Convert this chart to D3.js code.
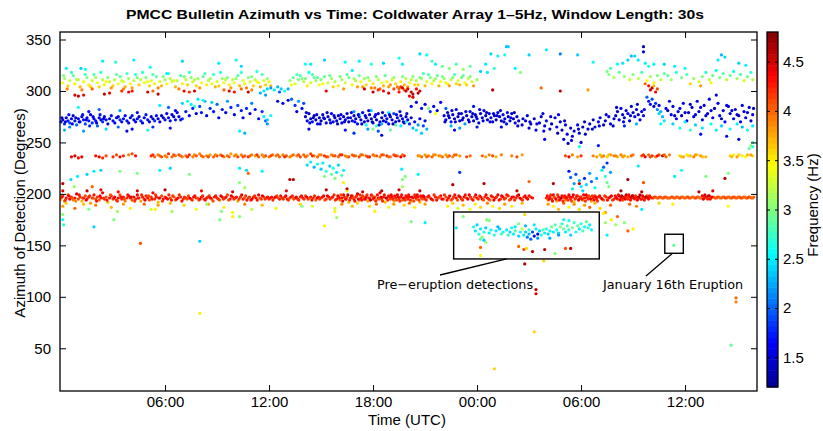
<!DOCTYPE html>
<html><head><meta charset="utf-8">
<script src="https://cdn.jsdelivr.net/npm/d3@7"></script>
<style>body{margin:0;background:#fff}svg{display:block}</style>
</head><body><svg id="c" width="823" height="431"></svg>
<script>
// Each point: [time in hours since 00:00 day 1, azimuth deg, frequency Hz]
const redBand = [[0.0,195,3.8],[0.1,198,4.2],[0.2,193,4.0],[0.3,196,4.3],[0.4,199,4.1],[0.5,195,4.4],[0.6,197,4.2],[0.7,194,3.9],[0.8,196,4.3],[0.9,200,4.5],[1.0,195,4.1],[1.1,197,4.2],[1.2,193,3.7],[1.3,196,4.3],[1.4,198,4.1],[1.5,195,4.2],[1.6,197,4.4],[1.7,191,3.8],[1.8,196,4.2],[1.9,199,4.3],
[2.0,195,4.1],[2.1,197,4.2],[2.2,194,4.0],[2.3,196,4.3],[2.4,201,4.4],[2.5,195,4.2],[2.6,197,4.1],[2.7,192,3.7],[2.8,196,4.3],[2.9,198,4.2],[3.0,195,4.1],[3.1,197,4.4],[3.2,194,4.2],[3.3,196,4.3],[3.4,199,4.1],[3.5,195,4.2],[3.6,197,4.3],[3.7,193,3.9],[3.8,196,4.2],[3.9,198,4.4],
[4.0,196,4.2],[4.1,194,4.1],[4.2,197,4.3],[4.3,195,4.2],[4.4,199,4.4],[4.5,196,4.1],[4.6,193,3.8],[4.7,197,4.3],[4.8,195,4.2],[4.9,198,4.2],[5.0,196,4.3],[5.1,194,4.1],[5.2,197,4.2],[5.3,201,4.4],[5.4,195,4.2],[5.5,197,4.3],[5.6,192,3.7],[5.7,196,4.2],[5.8,198,4.1],[5.9,195,4.3],
[6.0,197,4.2],[6.15,195,4.3],[6.3,196,4.1],[6.45,198,4.2],[6.6,194,4.0],[6.75,196,4.3],[6.9,197,4.2],[7.05,195,4.2],[7.2,196,4.3],[7.35,198,4.1],[7.5,195,4.2],[7.65,197,4.4],[7.8,196,4.2],[7.95,194,4.1],[8.1,197,4.3],
[8.25,195,4.2],[8.4,196,4.3],[8.55,198,4.2],[8.7,195,4.1],[8.85,197,4.3],[9.0,196,4.2],[9.15,194,4.0],[9.3,197,4.3],[9.45,196,4.2],[9.6,199,4.1],[9.75,195,4.3],[9.9,197,4.2],[10.05,196,4.3],[10.2,193,3.8],[10.35,197,4.2],[10.5,195,4.3],[10.65,198,4.2],[10.8,196,4.1],[10.95,194,4.3],[11.1,197,4.2],[11.25,196,4.3],[11.4,199,4.4],[11.55,195,4.2],[11.7,197,4.1],[11.85,196,4.3],
[12.0,195,4.2],[12.15,197,4.3],[12.3,196,4.2],[12.45,198,4.1],[12.6,195,4.3],[12.75,196,4.2],[12.9,197,4.2],[13.05,195,4.3],[13.2,196,4.1],[13.35,198,4.2],[13.5,196,4.3],[13.65,195,4.2],[13.8,197,4.2],[13.95,196,4.3],[14.1,198,4.1],[14.25,195,4.2],[14.4,197,4.3],[14.55,196,4.2],[14.7,194,4.0],[14.85,197,4.3],[15.0,196,4.2],[15.15,198,4.4],[15.3,195,4.2],[15.45,197,4.3],[15.6,196,4.1],[15.75,199,4.2],[15.9,195,4.3],
[16.0,197,4.2],[16.1,194,3.9],[16.2,196,4.3],[16.3,199,4.4],[16.4,195,4.2],[16.5,197,4.1],[16.6,192,3.7],[16.7,196,4.3],[16.8,198,4.2],[16.9,195,4.4],[17.0,197,4.2],[17.1,200,4.6],[17.2,194,4.0],[17.3,196,4.3],[17.4,198,4.2],[17.5,195,4.1],[17.6,197,4.4],[17.7,193,3.8],[17.8,196,4.2],[17.9,199,4.3],[18.0,195,4.2],[18.1,197,4.1],[18.2,194,3.9],[18.3,196,4.3],[18.4,201,4.4],[18.5,195,4.2],[18.6,197,4.3],[18.7,192,3.7],[18.8,196,4.2],[18.9,198,4.4],[19.0,195,4.1],[19.1,197,4.3],[19.2,193,3.8],[19.3,196,4.2],[19.4,199,4.4],[19.5,195,4.2],[19.6,197,4.3],[19.7,194,4.0],[19.8,196,4.2],[19.9,198,4.3],
[20.0,195,4.2],[20.1,197,4.4],[20.2,193,3.8],[20.3,196,4.3],[20.4,199,4.2],[20.5,195,4.1],[20.6,197,4.3],[20.7,192,3.7],[20.8,196,4.2],[20.9,198,4.4],[21.0,195,4.2],[21.15,197,4.3],[21.3,196,4.1],[21.45,194,4.2],[21.6,197,4.3],[21.75,196,4.2],[21.9,198,4.4],[22.05,195,4.2],[22.2,197,4.1],[22.35,196,4.3],[22.5,194,4.0],[22.65,197,4.2],[22.8,196,4.3],[22.95,198,4.4],[23.1,195,4.2],[23.25,197,4.3],[23.4,196,4.2],[23.55,199,4.4],
[23.7,195,4.2],[23.85,197,4.1],[24.0,196,4.3],[24.15,198,4.2],[24.3,195,4.4],[24.45,197,4.2],[24.6,196,4.3],[24.75,194,4.0],[24.9,197,4.2],[25.05,196,4.3],[25.2,199,4.4],[25.35,195,4.2],[25.5,197,4.3],[25.65,196,4.1],[25.8,198,4.2],[25.95,195,4.3],[26.1,197,4.4],[26.25,196,4.2],[26.4,199,4.6],[26.55,195,4.3],[26.7,197,4.2],[26.85,196,4.4],[27.0,198,4.3],
[28.0,196,4.2],[28.1,194,3.9],[28.2,197,4.3],[28.3,195,4.2],[28.4,199,4.4],[28.5,196,4.1],[28.6,193,3.8],[28.7,197,4.3],[28.8,195,4.2],[28.9,198,4.3],[29.0,196,4.1],[29.1,194,3.9],[29.2,197,4.2],[29.3,199,4.4],[29.4,195,4.2],[29.5,197,4.3],[29.6,192,3.7],[29.7,196,4.2],[29.8,198,4.1],[29.9,195,4.3],[30.0,197,4.2],[30.1,194,3.9],[30.2,196,4.3],[30.3,199,4.4],[30.4,195,4.2],[30.5,197,4.1],[30.6,193,3.8],[30.7,196,4.3],[30.8,198,4.2],[30.9,195,4.3],[31.0,197,4.2],[31.15,196,4.3],[31.3,194,4.0],[31.45,197,4.2],[31.6,196,4.3],[31.75,198,4.4],[31.9,195,4.2],
[32.0,197,4.3],[32.1,195,4.2],[32.2,198,4.6],[32.3,196,4.3],[32.4,194,4.1],[32.5,197,4.4],[32.6,199,4.6],[32.7,195,4.2],[32.8,197,4.3],[32.9,196,4.4],[33.0,198,4.3],[33.1,195,4.2],[33.2,197,4.4],[33.3,196,4.3],[33.4,199,4.6],[33.5,195,4.2],[33.6,197,4.3],[33.7,196,4.2],[33.8,198,4.1],[33.9,195,4.3],[34.0,197,4.2],[34.15,196,4.1],[34.3,197,4.1],[34.45,196,4.1],[34.6,197,4.0],[34.75,196,4.1],[34.9,197,4.0],[35.05,196,4.1],[35.2,197,4.0],[35.35,196,4.0],[35.5,197,4.1],[35.65,196,4.0],[35.8,197,4.1],[35.95,196,4.0],
[36.1,197,4.0],[36.25,196,4.1],[36.4,197,4.0],[36.55,196,4.0],[36.7,197,4.1],[36.85,196,4.0],[37.0,198,4.4],[37.1,196,4.2],[37.2,197,4.5],[37.3,195,4.2],[37.4,198,4.4],[37.5,196,4.1],[37.65,197,4.0],[37.8,196,4.1],[37.95,197,4.0],[38.1,196,4.0],[38.25,197,4.1],[38.4,196,4.0],[38.55,197,4.0],[38.7,196,4.1],[38.85,197,4.0],[39.0,196,4.0],[39.15,197,4.1],[39.3,196,4.0],[39.45,197,4.0],[39.6,196,4.1],[39.75,197,4.0],[39.9,196,4.0]];

const redBand2 = [[0.05,197,4.3],[0.25,194,4.2],[0.45,198,4.4],[0.65,196,4.1],[0.85,193,3.9],[1.05,199,4.3],[1.25,196,4.2],[1.45,194,4.4],[1.65,198,4.2],[1.85,196,4.1],[2.05,193,4.3],[2.25,198,4.4],[2.45,196,4.2],[2.65,194,4.3],[2.85,199,4.1],[3.05,196,4.4],[3.25,193,4.2],[3.45,197,4.3],[3.65,195,4.1],[3.85,199,4.3],[4.05,197,4.4],[4.25,193,4.2],[4.45,196,4.3],[4.65,199,4.2],[4.85,194,4.4],[5.05,198,4.1],[5.25,195,4.3],[5.45,199,4.2],[5.65,196,4.4],[5.85,193,4.2],
[6.07,196,4.4],[6.22,199,4.2],[6.37,194,4.3],[6.52,197,4.1],[6.67,195,4.4],[6.82,199,4.2],[6.97,193,4.3],[7.12,197,4.2],[7.27,195,4.1],[7.42,196,4.4],[7.57,194,4.2],[7.72,198,4.3],[7.87,196,4.1],[8.02,195,4.4],[8.17,198,4.2],[8.32,194,4.3],[8.47,197,4.2],[8.62,196,4.4],[8.77,193,4.1],[8.92,198,4.3],[9.07,195,4.2],[9.22,198,4.4],[9.37,195,4.2],[9.52,197,4.3],[9.67,194,4.1],[9.82,198,4.4],[9.97,195,4.2],[10.12,197,4.3],[10.27,195,4.2],[10.42,199,4.4],[10.57,196,4.1],[10.72,194,4.3],[10.87,197,4.2],[11.02,195,4.4],[11.17,198,4.2],[11.32,194,4.3],[11.47,196,4.1],[11.62,198,4.4],[11.77,195,4.2],[11.92,197,4.3],
[12.07,196,4.3],[12.22,194,4.2],[12.37,197,4.4],[12.52,196,4.1],[12.67,198,4.3],[12.82,195,4.2],[12.97,198,4.4],[13.12,194,4.2],[13.27,197,4.3],[13.42,195,4.1],[13.57,197,4.4],[13.72,194,4.2],[13.87,198,4.3],[14.02,195,4.2],[14.17,197,4.4],[14.32,196,4.1],[14.47,194,4.3],[14.62,198,4.2],[14.77,196,4.4],[14.92,195,4.2],[15.07,197,4.3],[15.22,194,4.1],[15.37,198,4.4],[15.52,195,4.2],[15.67,197,4.3],[15.82,194,4.2],[15.97,198,4.4],
[16.05,196,4.3],[16.15,199,4.1],[16.25,193,4.4],[16.35,197,4.2],[16.45,195,4.3],[16.55,199,4.6],[16.65,194,4.2],[16.75,198,4.4],[16.85,196,4.1],[16.95,193,4.3],[17.05,198,4.2],[17.15,195,4.4],[17.25,199,4.2],[17.35,194,4.3],[17.45,197,4.1],[17.55,195,4.4],[17.65,199,4.2],[17.75,196,4.3],[17.85,194,4.6],[17.95,198,4.2],[18.05,196,4.4],[18.15,193,4.2],[18.25,199,4.3],[18.35,195,4.1],[18.45,197,4.4],[18.55,193,4.2],[18.65,199,4.3],[18.75,196,4.6],[18.85,194,4.2],[18.95,197,4.3],[19.05,199,4.4],[19.15,195,4.2],[19.25,198,4.3],[19.35,194,4.1],[19.45,197,4.4],[19.55,193,4.2],[19.65,199,4.3],[19.75,196,4.4],[19.85,194,4.2],[19.95,197,4.3],
[20.05,199,4.3],[20.15,194,4.2],[20.25,197,4.4],[20.35,193,4.1],[20.45,197,4.3],[20.55,199,4.4],[20.65,194,4.2],[20.75,198,4.3],[20.85,195,4.1],[20.95,197,4.4],[21.07,194,4.2],[21.22,198,4.3],[21.37,195,4.4],[21.52,199,4.2],[21.67,194,4.3],[21.82,197,4.1],[21.97,195,4.4],[22.12,199,4.2],[22.27,194,4.3],[22.42,198,4.4],[22.57,195,4.2],[22.72,199,4.3],[22.87,194,4.1],[23.02,197,4.4],[23.17,194,4.2],[23.32,199,4.3],[23.47,195,4.4],[23.62,197,4.2],[23.77,194,4.3],[23.92,199,4.4],[24.07,195,4.2],[24.22,197,4.3],[24.37,194,4.1],[24.52,199,4.4],[24.67,195,4.2],[24.82,198,4.3],[24.97,194,4.4],[25.12,197,4.2],[25.27,194,4.3],[25.42,198,4.4],[25.57,195,4.2],[25.72,199,4.3],[25.87,194,4.1],[26.02,197,4.4],[26.17,194,4.2],[26.32,198,4.3],[26.47,196,4.4],[26.62,194,4.2],[26.77,198,4.3],[26.92,195,4.4],[27.1,197,4.2],[27.2,196,4.3],
[28.05,198,4.3],[28.15,195,4.4],[28.25,199,4.2],[28.35,193,4.3],[28.45,197,4.1],[28.55,195,4.4],[28.65,199,4.2],[28.75,194,4.3],[28.85,196,4.6],[28.95,193,4.2],[29.05,198,4.3],[29.15,196,4.4],[29.25,194,4.2],[29.35,197,4.3],[29.45,193,4.1],[29.55,199,4.4],[29.65,195,4.2],[29.75,198,4.3],[29.85,194,4.4],[29.95,197,4.2],[30.05,195,4.3],[30.15,199,4.4],[30.25,193,4.2],[30.35,197,4.3],[30.45,198,4.1],[30.55,195,4.4],[30.65,198,4.2],[30.75,194,4.3],[30.85,197,4.4],[30.95,193,4.2],[31.07,198,4.3],[31.22,195,4.4],[31.37,198,4.2],[31.52,194,4.3],[31.67,197,4.4],[31.82,194,4.2],[31.97,198,4.3],
[32.05,196,4.4],[32.15,199,4.3],[32.25,194,4.4],[32.35,198,4.6],[32.45,196,4.3],[32.55,195,4.4],[32.65,197,4.2],[32.75,199,4.4],[32.85,194,4.3],[32.95,198,4.6],[33.05,196,4.4],[33.15,198,4.2],[33.25,194,4.4],[33.35,197,4.6],[33.45,195,4.3],[33.55,198,4.4],[33.65,194,4.3],[33.75,197,4.6],[33.85,196,4.4],[33.95,198,4.3],[34.07,196,4.2],[34.22,197,4.1],[34.37,196,4.0],[34.52,197,4.1],[34.67,196,4.0],[34.82,197,4.1],[34.97,196,4.0],
[35.12,196,4.0],[35.27,197,4.1],[35.42,196,4.0],[35.57,197,4.0],[35.72,196,4.1],[35.87,197,4.0],[36.02,196,4.0],[36.17,197,4.1],[36.32,196,4.0],[36.47,197,4.0],[36.62,196,4.1],[36.77,197,4.0],[36.92,196,4.0],[37.05,195,4.4],[37.15,199,4.5],[37.25,196,4.2],[37.35,198,4.6],[37.45,195,4.3],[37.55,197,4.4],[37.72,196,4.0],[37.87,197,4.1],[38.02,196,4.0],[38.17,197,4.0],[38.32,196,4.1],[38.47,197,4.0],[38.62,196,4.0],[38.77,197,4.1],[38.92,196,4.0],[39.07,197,4.0],[39.22,196,4.1],[39.37,197,4.0],[39.52,196,4.0],[39.67,197,4.1],[39.82,196,4.0],[39.97,197,4.0]];

const redSpread = [[0.1,188,3.8],[0.3,191,3.6],[0.8,186,4.0],[1.3,190,3.7],[1.5,203,4.6],[2.0,189,3.9],[2.3,204,4.4],[2.9,187,3.7],[3.3,202,4.3],[3.6,190,3.8],[4.0,186,3.5],[4.4,203,4.5],[4.8,190,4.0],[5.2,185,3.3],[5.6,189,3.8],[6.0,204,4.6],[6.3,191,3.7],[7.1,189,3.6],[7.8,185,3.4],[8.1,203,4.4],[8.5,190,3.8],[9.4,187,3.5],[9.9,202,4.5],[10.6,190,3.9],[11.0,185,3.2],[11.6,189,3.7],[12.4,186,3.4],[13.0,203,4.4],[13.8,190,3.6],[14.5,188,3.3],[15.3,204,4.6],[15.8,186,3.3],[16.2,190,3.9],[16.5,205,4.6],[16.8,188,3.7],[17.1,191,3.6],[17.4,202,4.5],[17.8,188,3.6],[18.2,190,4.0],[18.5,203,4.6],[18.9,187,3.4],[19.2,190,3.8],[19.5,204,4.5],[19.8,189,3.6],[20.1,191,4.0],[20.4,187,3.5],[20.7,203,4.6],[21.0,190,3.8],
[22.3,188,3.5],[22.6,191,3.6],[22.9,186,3.3],[23.2,189,3.7],[23.6,185,3.4],[23.9,190,3.5],[24.2,187,3.6],[24.6,191,3.9],[24.9,188,3.4],[25.3,186,3.6],[25.6,190,3.8],[26.0,188,3.5],[26.3,203,4.6],[26.6,191,3.7],[28.1,190,3.8],[28.4,188,3.5],[28.7,185,3.7],[29.0,191,4.0],[29.3,187,3.4],[29.6,190,3.9],[29.9,185,3.6],[30.2,189,3.8],[30.5,187,4.0],[30.8,191,3.7],[31.1,186,3.6],[31.4,182,3.8],[31.7,189,4.0],[32.3,203,4.7],[32.8,190,4.0],[33.2,188,3.9],[33.5,202,4.6],[34.5,191,3.6],[35.3,190,3.5],[36.8,202,4.6],[37.6,203,4.5],[38.5,188,3.4]];

const orangeBand = [[0.6,236,4.4],[0.8,237,4.5],[1.0,235,4.3],[1.2,236,4.4],[2.0,237,4.3],[2.2,236,4.4],[2.4,235,4.2],[2.6,237,4.1],[3.0,236,4.2],[3.2,238,4.1],[3.4,236,4.3],[3.6,237,4.2],[3.9,238,3.9],[4.1,239,4.1],[4.3,237,4.3],[5.2,237,4.2],[5.4,236,4.0],[5.6,238,3.9],[5.8,236,4.1],[6.0,237,3.9],[6.2,239,4.2],[6.4,236,4.0],[6.6,237,3.9],[6.8,238,4.1],[7.0,236,3.9],[7.2,237,4.0],[7.4,238,4.2],[7.6,236,3.9],[7.8,237,4.1],[8.0,239,3.9],[8.2,236,4.0],[8.4,237,3.9],[8.6,238,3.8],[8.8,236,4.0],[9.0,237,4.1],[9.2,238,3.9],[9.4,236,3.9],[9.6,237,4.0],[9.8,239,3.8],[10.0,237,3.9],[10.2,236,4.1],[10.4,238,3.9],[10.6,237,4.0],[10.8,236,4.2],[11.0,238,3.9],[11.2,237,3.8],[11.4,236,4.0],[11.6,238,3.9],[11.8,237,4.1],[12.0,236,3.9],[12.2,238,4.0],[12.4,237,3.9],[12.6,236,4.0],[12.8,238,3.9],[13.0,237,4.1],[13.2,236,3.9],[13.4,238,4.0],[13.6,237,3.9],[13.8,236,4.1],[14.0,238,4.0],[14.2,237,3.9],[14.4,239,4.1],[14.6,237,3.9],[14.8,236,4.0],[15.0,238,3.9],[15.2,237,4.2],[15.4,236,4.0],[15.6,238,3.9],[15.8,237,4.1],[16.0,236,4.0],[16.2,238,4.2],[16.4,237,3.9],[16.6,236,4.1],[16.8,238,4.0],[17.0,237,3.9],[17.2,236,4.1],[17.4,238,3.9],[17.6,237,4.0],[17.8,236,4.2],[18.0,238,4.0],[18.2,237,4.1],[18.4,236,3.9],[18.6,238,4.0],[18.8,237,4.2],[19.0,236,3.9],[19.2,238,4.1],[19.4,237,4.0],[19.6,236,4.4],[19.8,237,4.3],
[20.6,237,3.9],[20.8,236,4.0],[21.0,238,3.8],[21.2,237,3.9],[21.4,236,4.0],[21.6,238,3.8],[21.8,237,3.9],[22.0,236,4.0],[22.2,238,3.8],[22.4,237,4.1],[22.6,236,3.9],[22.8,238,4.0],[23.0,237,3.8],[23.4,236,4.1],[23.6,237,4.0],[24.3,237,4.0],[24.5,236,3.8],[24.7,238,3.9],[24.9,237,4.1],[25.1,236,3.7],[25.4,238,3.9],[26.0,237,3.9],[26.3,236,4.1],[26.6,238,3.8],[29.1,237,4.1],[29.3,236,4.4],[29.5,238,3.9],[29.8,236,3.8],[30.0,237,4.2],[30.7,237,3.9],[30.9,236,3.8],[31.1,238,3.7],[31.3,237,3.9],[31.5,236,3.6],[31.7,238,3.8],[31.9,237,3.9],[32.1,236,3.7],[32.3,238,3.9],[32.5,237,3.8],[32.7,236,3.7],[33.0,238,3.9],[33.5,237,4.1],[33.7,236,4.4],[33.9,238,4.0],[34.1,237,4.2],[34.3,236,3.9],[34.5,238,4.1],[34.7,237,4.5],[34.9,236,4.0],[35.1,238,3.9],[35.7,237,3.6],[35.9,236,3.8],[36.1,238,3.5],[36.3,237,3.7],[36.5,236,3.9],[36.7,238,3.6],[36.9,237,3.8],[37.2,236,3.7],[38.6,237,3.6],[38.8,238,3.5],[39.0,236,3.8],[39.3,237,3.5],[39.6,238,3.7],[39.9,237,3.6]];

const orangeBand2 = [[5.3,238,4.2],[5.7,237,4.0],[6.1,236,3.9],[6.5,238,4.1],[6.9,237,4.0],[7.3,236,4.2],[7.7,238,3.9],[8.1,237,4.0],[8.5,236,4.1],[8.9,238,3.9],[9.3,237,4.2],[9.7,236,4.0],[10.1,238,3.9],[10.5,236,4.1],[10.9,237,4.0],[11.3,238,4.2],[11.7,236,3.9],[12.1,237,4.1],[12.5,238,4.0],[12.9,236,4.2],[13.3,237,3.9],[13.7,238,4.1],[14.1,236,4.0],[14.5,237,4.2],[14.9,238,3.9],[15.3,236,4.1],[15.7,237,4.0],[16.1,238,4.2],[16.5,236,3.9],[16.9,237,4.1],[17.3,238,4.0],[17.7,236,4.2],[18.1,237,3.9],[18.5,238,4.1],[18.9,236,4.0],[19.3,237,4.2],[19.7,238,4.0],[20.7,237,3.8],[21.1,236,4.0],[21.5,238,3.9],[21.9,237,3.8],[22.3,236,3.9],[22.7,238,4.0],[31.2,236,3.8],[31.6,238,3.7],[32.0,237,3.9],[32.4,236,3.8],[32.9,237,4.0],[33.6,238,4.2],[34.0,236,4.1],[34.4,237,4.3],[34.8,238,4.0],[35.8,236,3.7],[36.2,237,3.6],[36.6,238,3.8],[37.0,236,3.7],[38.7,236,3.7],[39.1,238,3.6],[39.5,236,3.5],[39.8,238,3.8]];

const upperBand = [[0.1,308,3.4],[0.2,312,3.1],[0.4,305,3.6],[0.5,310,3.3],[0.7,315,2.9],[0.8,307,3.5],[1.0,311,3.2],[1.1,304,3.7],[1.3,309,3.4],[1.5,313,3.0],[1.6,306,3.5],[1.8,310,3.3],[1.9,316,2.8],[2.1,308,3.4],[2.2,304,3.6],[2.4,311,3.2],[2.5,306,3.5],[2.7,313,3.0],[2.8,309,3.3],[3.0,305,3.6],[3.1,311,3.2],[3.3,307,3.4],[3.4,314,2.9],[3.6,309,3.3],[3.7,304,3.7],[3.9,312,3.1],[4.0,307,3.5],[4.2,310,3.2],[4.3,316,2.7],[4.5,306,3.6],[4.6,311,3.2],[4.8,308,3.4],[4.9,313,3.0],[5.1,305,3.6],[5.2,310,3.3],[5.4,307,3.5],[5.5,314,2.9],[5.7,309,3.3],[5.8,305,3.7],[6.0,311,3.1],[6.1,307,3.4],[6.3,312,3.2],[6.4,309,3.3],[6.6,304,3.7],[6.7,310,3.2],[6.9,315,2.8],[7.0,307,3.5],[7.2,311,3.2],[7.3,306,3.6],[7.5,313,3.0],[7.6,309,3.3],[7.8,305,3.6],[7.9,312,3.1],[8.1,308,3.4],[8.2,314,2.9],[8.4,306,3.5],[8.5,310,3.2],[8.7,307,3.4],[8.8,316,2.7],[9.0,309,3.3],[9.1,305,3.6],[9.3,312,3.1],[9.4,308,3.4],[9.6,313,3.0],[9.7,306,3.5],[9.9,311,3.2],[10.0,308,3.4],[10.2,315,2.8],[10.3,305,3.7],[10.5,310,3.3],[10.6,307,3.5],[10.8,313,3.0],[10.9,309,3.3],[11.1,305,3.6],[11.2,311,3.2],[11.4,308,3.4],[11.5,304,3.8],[11.7,310,3.3],[11.8,306,3.6],[12.0,309,3.4],[12.1,305,3.7],
[13.2,310,3.1],[13.4,313,2.9],[13.5,307,3.3],[13.7,311,3.0],[13.8,315,2.8],[14.0,309,3.2],[14.1,312,3.0],[14.3,318,2.6],[14.4,308,3.3],[14.6,313,2.9],[14.7,310,3.1],[14.9,306,3.4],[15.0,311,3.0],[15.2,314,2.9],[15.4,308,3.3],[15.6,312,3.1],[15.8,309,3.2],[16.0,305,3.5],[16.2,311,3.1],[16.4,308,3.3],[16.6,313,3.0],[16.8,306,3.5],[17.0,310,3.2],[17.1,304,3.8],[17.3,309,3.4],[17.5,312,3.1],[17.6,306,3.6],[17.8,310,3.3],[18.0,307,3.5],[18.1,303,3.9],[18.3,311,3.2],[18.5,308,3.4],[18.6,305,3.7],[18.8,309,3.4],[19.0,306,3.8],[19.1,311,3.3],[19.3,307,3.6],[19.4,304,3.9],[19.6,309,3.5],[19.8,306,3.7],[19.9,312,3.2],[20.1,308,3.4],[20.3,314,3.0],[20.5,310,3.2],[20.6,306,3.6],[20.8,312,3.1],[20.9,317,2.8],[21.1,309,3.3],[21.3,313,3.0],[21.5,310,3.2],[21.7,315,2.9],[21.9,309,3.4],[22.1,312,3.1],[22.3,307,3.5],[22.5,311,3.2],[22.7,316,2.8],[22.9,310,3.3],[23.1,313,3.0],[23.3,308,3.4],[23.5,312,3.2],[23.7,309,3.3],[24.0,311,3.1],[22.0,324,2.9],[22.4,322,3.0],[22.8,326,2.8],[23.2,321,3.1],[23.6,324,2.9],
[31.5,319,3.0],[31.6,316,3.0],[31.7,322,2.8],[31.9,313,3.2],[32.1,326,2.6],[32.2,318,2.9],[32.4,327,2.5],[32.5,314,3.1],[32.7,330,2.4],[32.8,311,3.3],[32.9,334,2.3],[33.0,316,3.0],[33.1,334,2.4],[33.3,312,3.2],[33.3,330,2.5],[33.5,318,2.8],[33.7,327,2.5],[33.8,310,3.4],[33.9,324,2.6],[34.0,314,3.1],[34.2,326,2.5],[34.2,308,3.5],[34.4,315,3.0],[34.6,311,3.2],[34.8,317,2.9],[34.8,326,2.4],
[35.0,315,2.9],[35.2,311,3.1],[35.4,324,2.5],[35.5,318,2.7],[35.8,313,3.0],[36.0,322,2.6],[36.1,316,2.8],[36.3,307,3.6],[36.5,312,3.1],[36.8,309,3.3],[36.9,305,3.8],[37.0,314,3.0],[37.2,318,2.7],[37.4,311,3.2],[37.5,308,3.5],[37.6,315,2.9],[37.8,320,2.6],[37.9,330,2.5],[38.0,313,3.0],[38.1,335,2.3],[38.2,317,2.8],[38.3,333,2.4],[38.4,311,3.2],[38.6,315,2.9],[38.8,319,2.6],[39.0,312,3.1],[39.1,327,2.4],[39.2,316,2.8],[39.4,310,3.3],[39.5,325,2.5],[39.6,314,3.0],[39.8,318,2.7],[39.9,311,3.2]];

const upperBand2 = [[0.15,315,3.0],[0.35,302,3.9],[0.6,318,2.7],[0.9,311,3.2],[1.2,301,3.9],[1.4,316,2.8],[1.7,304,3.6],[2.0,313,3.1],[2.3,318,2.7],[2.6,309,3.4],[2.9,303,3.8],[3.2,316,2.9],[3.5,310,3.3],[3.8,317,2.8],[4.1,303,3.8],[4.4,313,3.0],[4.7,318,2.7],[5.0,309,3.4],[5.3,316,2.8],[5.6,303,3.9],[5.9,314,3.0],[6.2,317,2.7],[6.5,310,3.3],[6.8,302,3.9],[7.1,314,3.0],[7.4,318,2.7],[7.7,311,3.2],[8.0,303,3.8],[8.3,317,2.8],[8.6,312,3.1],[8.9,304,3.7],[9.2,318,2.7],[9.5,311,3.2],[9.8,303,3.8],[10.1,312,3.1],[10.4,318,2.7],[10.7,303,3.9],[11.0,314,3.0],[11.3,309,3.4],[11.6,316,2.8],[11.9,312,3.1],
[13.3,306,3.4],[13.6,316,2.8],[13.9,312,3.0],[14.2,305,3.5],[14.5,316,2.8],[14.8,313,2.9],[15.1,307,3.4],[15.5,315,2.9],[15.7,304,3.6],[16.1,314,3.0],[16.3,302,3.8],[16.5,316,2.8],[16.9,312,3.1],[17.2,315,2.9],[17.4,304,3.8],[17.7,313,3.0],[17.9,303,3.9],[18.2,314,3.0],[18.4,302,4.0],[18.7,315,2.9],[18.9,304,3.8],[19.2,313,3.1],[19.5,302,4.0],[19.7,314,3.0],[20.0,304,3.8],[20.2,311,3.2],[20.4,306,3.6],[20.7,313,3.0],[21.0,305,3.7],[21.2,316,2.8],[21.4,307,3.5],[21.6,312,3.1],[21.8,305,3.7],[22.0,314,3.0],[22.2,308,3.4],[22.4,305,3.8],[22.6,313,3.0],[22.8,307,3.6],[23.0,306,3.7],[23.2,315,2.9],[23.4,306,3.6],[23.6,314,3.0],[23.8,305,3.8]];

const upperRed = [[0.8,296,4.5],[1.0,295,4.6],[1.3,296,4.4],[1.8,302,4.0],[2.5,297,4.6],[2.8,298,4.4],[3.5,300,4.2],[3.6,302,3.9],[3.9,299,4.4],[4.1,300,4.3],[5.0,299,4.5],[5.3,300,4.0],[5.6,297,4.6],[7.1,300,4.4],[7.4,299,4.2],[7.7,300,4.5],[9.4,301,4.0],[9.7,300,4.5],[10.0,299,4.3],[10.4,302,4.0],[10.8,299,4.6],[11.0,301,3.9],
[15.3,300,4.4],[17.5,302,4.5],[18.0,299,4.6],[18.3,301,4.2],[18.6,300,4.4],[18.9,298,4.5],[19.2,302,4.1],[19.5,299,4.3],[19.8,301,4.0],[19.6,304,4.2],[19.7,303,4.5],[19.9,300,4.6],[20.0,302,4.4],[20.2,299,4.5],[20.3,297,4.6],[20.5,302,4.3],[20.7,300,4.5],[20.6,298,4.6],[20.1,295,4.4],[20.3,294,4.5],
[33.7,307,4.0],[33.9,305,4.3],[34.0,301,4.5],[34.1,303,4.6],[34.3,299,4.4],[34.2,305,3.7],[34.4,302,4.1],[24.9,301,4.6],[27.7,303,4.0],[28.8,300,4.6],[30.4,301,3.8]];

const upperCyan = [[0.3,322,2.5],[1.15,322,2.4],[1.4,321,2.6],[2.4,329,2.5],[3.15,328,2.7],[4.2,330,2.5],[5.15,323,2.6],[6.1,317,2.5],[7.0,329,2.4],[9.1,327,2.5],[10.1,330,2.6],[10.4,324,2.4],[11.3,319,2.7],[14.1,326,2.6],[14.4,326,2.5],[15.2,330,2.4],[16.4,328,2.6],[16.8,320,2.5],[17.2,329,2.5],[17.9,326,2.7],[18.6,327,2.4],[19.5,332,2.6],[19.7,326,2.5],
[20.7,336,2.4],[21.1,335,2.6],[21.4,329,2.8],[21.6,326,2.5],[24.2,319,2.4],[24.5,326,2.5],[24.6,318,2.5],[24.8,336,2.4],[25.0,322,2.7],[25.2,334,2.5],[25.6,335,2.6],[25.7,343,2.3],[25.8,343,2.4],[26.2,322,2.5],[26.5,318,3.0],[27.0,335,2.4],[28.0,340,2.5],[28.8,336,2.1],[29.8,335,2.4],[30.7,328,2.6],[33.6,343,1.3],[33.6,338,1.4]];

const blueBand = [[0.0,270,1.7],[0.1,272,1.6],[0.2,268,1.8],[0.3,274,1.5],[0.4,271,1.7],[0.5,269,1.9],[0.6,273,1.6],[0.7,276,1.5],[0.8,271,1.7],[0.9,267,2.0],[1.0,273,1.6],[1.1,270,1.8],[1.2,275,1.5],[1.3,272,1.7],[1.4,268,1.9],[1.5,274,1.6],[1.6,271,1.7],[1.7,277,1.5],[1.8,269,1.8],[1.9,273,1.6],[2.0,271,1.7],[2.1,266,2.0],[2.2,274,1.6],[2.3,272,1.5],[2.4,270,1.8],[2.5,275,1.6],[2.6,272,1.7],[2.8,273,1.6],[3.0,271,1.7],[3.2,274,1.5],[3.4,272,1.8],[3.6,273,1.6],[3.8,271,1.7],[4.0,274,1.6],[4.2,272,1.5],[4.4,273,1.7],[4.6,271,1.8],[4.8,274,1.6],[5.0,272,1.7],[5.2,275,1.5],[5.4,271,1.8],[5.6,273,1.6],[5.8,276,1.5],[6.0,272,1.7],[6.2,274,1.6],[6.4,277,1.5],[6.6,272,1.7],[6.8,275,1.6],[7.0,273,1.8],
[0.2,262,2.3],[0.5,265,2.1],[1.3,261,2.2],[2.6,263,2.4],[3.3,265,2.0],[4.1,263,1.6],[3.8,261,1.5],[5.3,265,1.8],[5.0,262,2.6],[6.3,264,1.7],[10.3,261,2.5],[10.6,259,2.3],[14.3,263,1.5],[16.4,262,1.7],[16.9,259,1.8],[17.7,263,2.2],[18.3,261,1.9],[18.5,257,1.4],
[1.0,284,2.6],[1.6,280,1.7],[2.2,282,2.0],[3.4,281,2.2],[4.4,279,1.6],[5.7,286,2.5],[6.2,284,2.0],[6.6,281,1.6],[7.0,288,2.4],[7.3,290,2.6],[7.5,287,2.5],[7.7,285,2.7],
[7.2,280,1.7],[7.4,276,1.6],[7.6,283,1.8],[7.8,278,1.5],[8.0,285,1.9],[8.1,279,1.7],[8.3,290,2.3],[8.4,276,1.6],[8.6,283,1.8],[8.8,280,1.7],[9.0,287,2.0],[9.1,274,1.6],[9.3,282,1.7],[9.5,279,1.5],[9.6,290,2.2],[9.8,284,1.8],[10.0,277,1.6],[10.2,286,1.9],[10.4,281,1.7],[10.5,274,1.5],[10.7,283,1.8],[10.9,278,1.6],[11.0,288,2.1],[11.2,282,1.7],[11.4,273,1.6],[11.6,280,1.8],[11.8,271,2.0],[11.9,268,2.2],[7.9,292,2.5],[8.2,291,2.6],[8.7,289,2.4],
[11.5,298,2.3],[11.7,300,2.5],[11.9,302,2.4],[12.1,303,2.2],[12.3,301,2.5],[12.5,304,2.3],[12.7,302,2.4],[12.9,300,2.6],[13.1,302,2.3],[11.8,296,2.2],[12.6,299,2.0],[11.7,275,2.5],[11.9,272,2.4],[12.1,276,2.6],[12.5,290,1.5],[12.8,288,1.6],[13.1,291,1.5],[13.3,292,2.0],[13.5,286,1.8],[13.7,290,2.2],[13.9,283,1.7],[14.0,288,1.9],[13.6,280,1.6],
[14.1,275,1.5],[14.2,271,1.6],[14.3,278,1.4],[14.4,273,1.5],[14.5,270,1.7],[14.6,276,1.5],[14.7,272,1.4],[14.8,268,1.6],[14.9,274,1.5],[15.0,271,1.4],[15.1,277,1.5],[15.2,273,1.6],[15.3,269,1.5],[15.4,275,1.4],[15.5,272,1.5],[15.6,278,1.6],[15.7,270,1.5],[15.8,274,1.4],[15.9,271,1.5],[16.0,276,1.4],[16.1,273,1.5],[16.2,269,1.6],[16.3,275,1.4],[16.4,272,1.5],[16.5,278,1.5],[16.6,270,1.4],[16.7,274,1.5],[16.8,271,1.6],[16.9,276,1.4],[17.0,273,1.5],[17.1,268,1.7],[17.2,275,1.4],[17.3,272,1.5],[17.4,279,1.6],[17.5,270,1.5],[17.6,274,1.4],[17.7,271,1.5],[17.8,277,1.5],[17.9,273,1.4],[18.0,269,1.6],[18.1,275,1.5],[18.2,272,1.4],[18.3,278,1.5],[18.4,270,1.6],[18.5,274,1.4],[18.6,271,1.5],[18.7,276,1.7],[18.8,273,1.5],[18.9,268,1.6],[19.0,275,1.4],[19.1,272,1.5],[19.2,278,1.9],[19.3,270,1.5],[19.4,274,1.6],[19.5,271,1.4],[19.6,276,1.5],[19.7,273,1.6],[19.8,269,1.5],[19.9,275,1.4],
[16.9,280,2.2],[17.2,277,2.5],[17.6,267,2.6],[17.9,281,2.4],[18.2,266,2.7],[18.5,268,2.3],[18.9,279,2.5],[19.3,267,2.8],[19.6,266,2.5],[19.9,270,2.6],[18.0,263,3.0],[19.0,262,2.9],
[20.0,272,1.6],[20.1,268,1.8],[20.2,274,1.5],[20.3,264,2.3],[20.4,270,1.7],[20.5,262,2.5],[20.6,267,2.2],[20.7,273,1.6],[20.8,259,2.4],[20.9,266,1.9],[21.0,271,1.7],[21.1,263,2.3],[20.2,285,1.6],[20.5,289,1.5],[20.8,283,1.7],[21.0,287,1.5],[21.3,280,1.8],[21.5,285,1.6],[21.7,281,1.5],[21.9,289,1.6],[21.2,283,3.0],[21.6,278,3.4],
[22.1,276,1.5],[22.2,272,1.6],[22.3,279,1.4],[22.4,274,1.5],[22.5,270,1.7],[22.6,277,1.5],[22.7,273,1.4],[22.8,282,1.6],[22.9,275,1.5],[23.0,271,1.4],[23.1,278,1.5],[23.2,274,1.6],[23.3,268,2.2],[23.4,276,1.4],[23.5,272,1.5],[23.6,280,1.6],[23.7,275,1.5],[23.8,271,1.4],[23.9,277,1.5],[24.0,273,1.6],[24.1,269,1.5],[24.2,278,1.4],[24.3,274,1.5],[24.4,281,1.6],[24.5,276,1.4],[24.6,272,1.5],[24.7,278,1.6],[24.8,274,1.4],[24.9,270,1.5],[25.0,276,1.5],[25.1,272,1.4],[25.2,279,1.6],[25.3,275,1.5],[25.4,271,1.4],[25.5,277,1.5],[25.6,273,1.6],[25.7,268,1.7],[25.8,275,1.4],[25.9,271,1.5],[26.0,278,1.5],[26.1,273,1.4],[26.2,269,1.6],[26.3,275,1.5],[26.4,271,1.4],[22.5,266,2.3],[23.0,264,2.2],[22.2,283,2.0],[24.0,265,1.7],[25.4,265,1.6],[23.8,285,1.7],[22.7,262,1.6],
[26.6,267,1.5],[26.8,271,1.6],[27.0,264,1.5],[27.1,268,1.4],[27.3,273,1.5],[27.4,262,1.6],[27.6,269,1.5],[27.7,275,1.4],[27.9,266,1.5],[28.0,271,1.6],[28.2,263,1.5],[28.3,268,1.4],[28.5,274,1.5],[28.6,265,1.6],[28.8,270,1.5],[28.9,262,1.4],[29.1,267,1.5],[29.2,258,1.6],[29.4,264,1.5],[29.5,256,1.4],[29.6,261,1.5],[29.8,267,1.6],[29.9,259,1.5],[30.1,265,1.4],[30.2,270,1.5],[30.4,263,1.6],[30.5,268,1.5],[30.7,272,1.4],[30.8,265,1.5],[31.0,270,1.6],[31.1,274,1.5],[31.3,267,1.4],[31.4,271,1.5],[31.6,275,1.5],[31.7,268,1.6],[31.9,273,1.5],[27.8,278,1.5],[28.7,277,1.6],[26.9,276,1.5],[29.0,253,1.6],[30.0,250,1.5],[29.9,246,2.6],[31.0,247,1.7],[27.9,253,1.6],[29.25,249,1.5],
[32.0,276,1.5],[32.1,280,1.4],[32.2,272,1.5],[32.3,283,1.6],[32.4,277,1.5],[32.5,274,1.4],[32.6,281,1.5],[32.7,278,1.6],[32.8,271,1.5],[32.9,285,1.4],[33.0,279,1.5],[33.1,275,1.6],[33.2,282,1.5],[33.3,277,1.4],[33.4,272,1.5],[33.5,280,1.6],[33.6,276,1.7],[32.5,266,1.8],[33.2,268,2.3],
[33.8,294,2.0],[33.9,290,1.7],[34.0,287,1.6],[34.1,292,1.9],[34.2,285,1.5],[34.3,288,1.8],[34.4,282,2.1],[34.5,286,1.6],[34.6,280,2.3],[34.5,278,2.4],[34.7,275,2.3],[34.8,271,2.5],[34.6,268,2.6],[34.9,283,1.6],
[35.0,281,1.5],[35.2,277,1.6],[35.3,285,1.5],[35.5,273,1.6],[35.6,280,1.5],[35.8,276,1.4],[35.9,288,1.5],[36.1,271,1.6],[36.2,279,1.5],[36.4,284,1.4],[36.5,275,1.6],[36.7,290,1.5],[36.8,280,1.5],[37.0,272,1.6],[37.1,286,1.4],[37.3,278,1.5],[37.4,292,1.6],[37.6,274,1.5],[37.7,283,1.4],[37.9,288,1.5],[38.0,276,1.6],[38.2,281,1.5],[38.3,270,1.6],[38.5,285,1.4],[38.6,278,1.5],[38.8,273,1.6],[38.9,282,1.5],[39.1,276,1.4],[39.2,270,1.6],[39.4,280,1.5],[39.5,274,1.6],[39.7,284,1.5],[39.8,271,1.4],[39.9,277,1.6],
[35.3,268,2.4],[35.7,264,2.6],[36.0,270,2.5],[36.3,262,2.7],[36.6,267,2.4],[37.0,264,2.5],[37.5,268,2.6],[37.8,262,2.5],[38.1,266,2.4],[38.6,263,2.6],[39.0,268,2.5],[39.3,265,2.3],[39.6,262,2.6],[39.9,266,2.5],[36.9,258,1.7],[38.4,256,1.6],[39.1,253,1.5],[39.9,246,2.6],[39.7,244,2.9]];

const blueBand2 = [[0.05,274,1.6],[0.25,270,1.5],[0.45,277,1.7],[0.65,268,1.6],[0.85,274,1.5],[1.05,270,1.6],[1.25,277,1.7],[1.45,272,1.5],[1.65,266,1.8],[1.85,275,1.6],[2.05,269,1.5],[2.25,277,1.7],[2.45,273,1.6],[2.7,268,1.5],[2.9,276,1.7],[3.1,269,1.6],[3.3,275,1.5],[3.5,270,1.7],[3.7,276,1.6],[3.9,269,1.5],[4.1,276,1.7],[4.3,270,1.6],[4.5,275,1.5],[4.7,269,1.6],[4.9,277,1.7],[5.1,270,1.5],[5.3,273,1.6],[5.5,276,1.7],[5.7,270,1.6],[5.9,274,1.5],[6.1,278,1.6],[6.3,271,1.7],[6.5,275,1.5],[6.7,279,1.6],[6.9,272,1.7],
[14.15,279,1.5],[14.35,269,1.6],[14.55,274,1.4],[14.75,277,1.5],[14.95,268,1.6],[15.15,274,1.5],[15.35,279,1.4],[15.55,269,1.6],[15.75,276,1.5],[15.95,268,1.4],[16.15,277,1.6],[16.35,270,1.5],[16.55,274,1.4],[16.75,279,1.5],[16.95,270,1.6],[17.15,277,1.5],[17.35,268,1.4],[17.55,276,1.6],[17.75,281,1.5],[17.95,270,1.4],[18.15,277,1.6],[18.35,267,1.5],[18.55,279,1.4],[18.75,270,1.6],[18.95,277,1.5],[19.15,268,1.4],[19.35,277,1.6],[19.55,280,1.5],[19.75,270,1.4],[19.95,278,1.5],
[22.15,270,1.4],[22.35,276,1.5],[22.55,281,1.6],[22.75,270,1.5],[22.95,278,1.4],[23.15,272,1.5],[23.35,280,1.6],[23.55,270,1.5],[23.75,278,1.4],[23.95,275,1.5],[24.15,282,1.6],[24.35,271,1.5],[24.55,279,1.4],[24.75,270,1.5],[24.95,278,1.6],[25.15,276,1.5],[25.35,281,1.4],[25.55,270,1.5],[25.75,279,1.6],[25.95,274,1.5],[26.15,279,1.4],[26.35,266,1.5],
[26.65,273,1.5],[27.05,270,1.6],[27.45,268,1.5],[27.85,261,1.6],[28.25,275,1.5],[28.65,259,1.4],[29.05,271,1.5],[29.45,252,1.6],[29.85,263,1.5],[30.25,258,1.4],[30.65,263,1.5],[31.05,266,1.6],[31.45,277,1.5],[31.85,266,1.4],
[32.05,284,1.5],[32.45,270,1.6],[32.85,276,1.5],[33.25,287,1.6],[33.65,282,1.5],
[35.1,290,1.5],[35.4,276,1.4],[35.7,283,1.6],[36.0,279,1.5],[36.3,287,1.4],[36.6,277,1.6],[36.9,284,1.5],[37.2,276,1.4],[37.5,281,1.6],[37.8,296,1.5],[38.1,273,1.4],[38.4,286,1.6],[38.7,281,1.5],[39.0,277,1.4],[39.3,286,1.6],[39.6,279,1.5],[39.95,283,1.4]];

const midScatter = [[0.57,214,2.4],[0.95,217,2.5],[1.5,219,2.4],[1.9,222,2.5],[1.8,207,4.0],[2.3,223,2.4],[3.4,222,3.0],[4.4,220,3.0],[5.7,223,2.5],[6.3,225,2.4],[7.4,219,3.0],[10.3,225,2.5],[10.7,223,2.4],[10.8,220,4.0],[11.6,222,2.5],[13.2,214,4.6],[13.4,214,4.6],[0.76,207,3.1],[10.3,211,3.0],[10.6,206,3.1],[16.3,211,3.5],[16.5,203,3.5],[19.7,214,3.0],[19.7,207,3.1],
[14.2,228,2.4],[14.4,231,2.5],[14.6,226,2.3],[14.8,229,2.6],[15.0,224,2.4],[15.1,230,2.5],[15.3,222,2.7],[15.5,227,2.4],[15.6,219,2.9],[15.7,225,2.6],[15.9,221,2.5],[16.0,228,2.4],[16.2,218,2.8],[16.3,223,2.5],[15.2,217,3.0],[15.8,215,3.0],
[19.65,224,2.5],[19.85,217,3.0],[20.6,219,2.5],[22.6,209,4.6],[23.0,221,1.8],[29.3,222,1.7],[29.4,216,2.0],[29.6,210,2.2],[29.7,219,1.9],[29.9,213,2.3],[30.0,207,2.5],[30.2,215,1.8],[30.3,209,2.4],[30.5,220,2.2],[30.6,212,2.0],[30.8,206,2.6],[30.9,215,2.3],[29.5,205,2.5],[30.1,203,2.4],[31.2,223,2.5],[31.4,217,2.7],[31.5,211,2.9],[31.6,207,3.0],[31.7,221,2.2],[31.3,226,2.0],[31.5,230,1.8],
[33.3,227,2.5],[35.4,217,2.5],[35.8,223,2.6],[37.2,217,3.0],[38.3,215,4.6],[38.5,220,3.0],[28.4,210,4.6],[29.9,210,4.5],[24.4,210,4.6],[27.0,212,4.0],[32.7,214,4.7],[33.6,211,4.1],[0.1,210,4.6],[0.1,203,4.5]];

const preEruption = [[23.8,168,2.6],[23.9,164,2.5],[24.0,170,2.4],[24.1,161,2.7],[24.2,166,2.5],[24.2,156,2.9],[24.3,158,3.0],[24.4,163,2.6],[24.5,167,2.4],[24.5,153,3.1],[24.7,162,2.5],[24.8,165,2.6],[25.0,160,2.7],[25.1,164,2.5],[25.3,166,2.4],[25.4,161,2.8],[25.5,163,2.6],[25.7,165,2.5],[25.8,160,2.7],[25.9,163,2.4],[26.0,167,2.6],[26.1,161,2.5],[26.2,164,2.8],[26.4,159,2.4],[26.5,163,2.6],[26.6,166,3.2],[26.7,160,2.5],[26.8,163,2.4],[26.9,158,2.1],[27.0,165,2.7],[27.0,161,2.3],[27.1,156,2.0],[27.2,163,1.9],[27.3,159,1.6],[27.4,166,2.5],[27.5,161,1.5],[27.5,157,2.2],[27.6,164,2.4],[27.7,160,2.6],[27.8,165,2.8],[27.9,162,2.5],[28.0,166,2.7],[28.1,161,2.4],[28.2,164,2.6],[28.3,168,2.9],[28.4,163,2.5],[28.5,170,2.8],[28.6,165,2.6],[28.7,162,2.4],[28.8,168,3.0],[28.9,171,2.7],[29.0,166,2.9],[29.1,163,2.5],[29.2,169,2.8],[29.3,174,2.6],[29.3,165,2.7],[29.4,160,2.4],[29.5,167,3.0],[29.6,172,2.8],[29.7,163,2.6],[29.8,169,2.9],[29.9,166,2.5],[30.0,171,2.7],[30.1,164,2.8],[30.2,168,2.6],[30.3,173,2.9],[30.4,167,2.7],[30.5,170,2.5],[30.6,165,2.6],[28.2,157,2.3],[28.7,160,2.2],[29.0,175,2.6],[26.2,168,2.5],[25.2,168,2.3],[24.4,155,2.4],[27.3,170,2.5],[26.4,171,3.0],[24.7,174,3.0],[26.8,169,2.3],
[26.4,149,4.0],[26.7,146,4.1],[26.85,147,3.6],[27.2,144,4.6],[27.9,146,4.6],[28.5,142,3.0],[29.1,147,4.1],[29.4,147,4.6],[24.2,148,4.0],[24.2,140,3.4],[26.75,132,4.6],[27.85,135,3.6],[24.55,175,3.0],[26.75,180,3.6],[23.2,178,3.0],[22.8,167,2.5],[21.0,172,2.5],[20.2,173,3.0]];

const outliers = [[0.1,180,3.0],[0.1,175,2.6],[0.15,170,2.7],[1.9,168,2.4],[1.6,185,3.0],[3.05,175,3.0],[3.25,183,3.1],[4.58,152,4.1],[5.44,185,3.5],[6.4,183,3.1],[8.0,154,2.4],[8.0,84,3.5],[8.4,190,3.1],[9.16,175,3.0],[9.25,183,3.0],[9.9,182,3.4],[9.9,178,3.5],[10.3,178,3.0],[13.9,188,3.0],[15.2,169,3.5],[15.8,183,3.5],[15.9,177,3.1],[18.1,183,3.5],
[31.5,160,2.5],[32.7,164,4.0],[32.5,172,3.0],[32.0,170,3.1],[31.4,172,3.1],[31.75,175,3.5],[33.5,185,2.5],[33.0,166,3.5],[32.1,178,4.0],[31.3,181,3.5],
[27.4,107,4.6],[27.4,103,4.5],[27.3,66,3.6],[25.0,30,3.6],[38.94,99,4.0],[38.94,95,3.9],[38.65,53,2.9],[39.9,250,2.8],[39.8,247,3.0]];

const eruption = [[35.35,150,2.9]];

// axis ticks
const xTickVals = [6,12,18,24,30,36];
const xTickLabels = ["06:00","12:00","18:00","00:00","06:00","12:00"];
const yTickVals = [50,100,150,200,250,300,350];
const cTickVals = [1.5,2,2.5,3,3.5,4,4.5];

const svg = d3.select("#c");
const L=60, R=757, T=32, B=391;
const x = d3.scaleLinear().domain([-0.06,40.15]).range([L,R]);
const y = d3.scaleLinear().domain([8.5,357.3]).range([B,T]);
const fDom=[1.2,4.8];
const jet = d3.scaleLinear().domain([0,0.125,0.375,0.625,0.875,1])
  .range(["#000090","#0000ff","#00ffff","#ffff00","#ff0000","#800000"]).clamp(true);
const fNorm = d3.scaleLinear().domain(fDom).range([0,1]).clamp(true);
const color = f => jet(fNorm(f));

const font = "'Liberation Sans', Arial, Helvetica, sans-serif";

// points
const all = [].concat(upperBand, upperBand2, upperCyan, upperRed, blueBand, blueBand2, orangeBand, orangeBand2, midScatter, redSpread, redBand, redBand2, preEruption, outliers, eruption);
svg.append("g").selectAll("circle").data(all).join("circle")
  .attr("cx", d=>x(d[0])).attr("cy", d=>y(d[1])).attr("r",1.6)
  .attr("fill", d=>color(d[2]));

// frame and axes
const ax = svg.append("g").attr("font-family",font);
function styleAxis(g){ g.select(".domain").remove(); g.selectAll(".tick line").attr("stroke","#000"); g.selectAll("text").attr("font-size","15px").attr("fill","#000"); }
ax.append("g").attr("transform",`translate(0,${B})`)
  .call(d3.axisBottom(x).tickValues(xTickVals).tickFormat((d,i)=>xTickLabels[i]).tickSizeInner(-6).tickSizeOuter(0).tickPadding(5))
  .call(styleAxis);
ax.append("g").attr("transform",`translate(0,${T})`)
  .call(d3.axisTop(x).tickValues(xTickVals).tickFormat("").tickSizeInner(-6).tickSizeOuter(0)).call(styleAxis);
ax.append("g").attr("transform",`translate(${L},0)`)
  .call(d3.axisLeft(y).tickValues(yTickVals).tickSizeInner(-6).tickSizeOuter(0).tickPadding(9))
  .call(styleAxis);
ax.append("g").attr("transform",`translate(${R},0)`)
  .call(d3.axisRight(y).tickValues(yTickVals).tickFormat("").tickSizeInner(-6).tickSizeOuter(0)).call(styleAxis);
svg.append("rect").attr("x",L).attr("y",T).attr("width",R-L).attr("height",B-T)
  .attr("fill","none").attr("stroke","#000").attr("stroke-width",1.3);

// annotations
const an = svg.append("g").attr("font-family","'DejaVu Sans', sans-serif").attr("font-size","12.8px");
an.append("rect").attr("x",x(22.65)).attr("y",y(182.4)).attr("width",x(31.05)-x(22.65)).attr("height",y(136.8)-y(182.4))
  .attr("fill","none").attr("stroke","#000").attr("stroke-width",1.4);
an.append("line").attr("x1",506.5).attr("y1",y(136.8)).attr("x2",440).attr("y2",275).attr("stroke","#000").attr("stroke-width",1.3);
an.append("text").attr("x",377).attr("y",288.5).text("Pre\u2212eruption detections");
an.append("rect").attr("x",x(34.83)).attr("y",y(160.8)).attr("width",x(35.9)-x(34.83)).attr("height",y(142.3)-y(160.8))
  .attr("fill","none").attr("stroke","#000").attr("stroke-width",1.4);
an.append("line").attr("x1",672.5).attr("y1",y(142.3)).attr("x2",646).attr("y2",276).attr("stroke","#000").attr("stroke-width",1.3);
an.append("text").attr("x",603).attr("y",288.5).text("January 16th Eruption");

// labels
svg.append("text").attr("x",415).attr("y",19).attr("text-anchor","middle").attr("font-family",font)
  .attr("font-weight","bold").attr("font-size","13.5px").attr("textLength",578).attr("lengthAdjust","spacingAndGlyphs")
  .text("PMCC Bulletin Azimuth vs Time: Coldwater Array 1\u20135Hz, Window Length: 30s");
svg.append("text").attr("x",407).attr("y",425).attr("text-anchor","middle").attr("font-family",font).attr("font-size","15px").text("Time (UTC)");
svg.append("text").attr("transform","translate(25,213) rotate(-90)").attr("text-anchor","middle").attr("font-family",font).attr("font-size","15px").text("Azimuth of Detection (Degrees)");

// colorbar
const cb = {x:767, w:11, top:32, bot:387};
const cy = d3.scaleLinear().domain(fDom).range([cb.bot,cb.top]);
const nC = 64;
const cbg = svg.append("g");
cbg.selectAll("rect").data(d3.range(nC)).join("rect")
  .attr("x",cb.x).attr("width",cb.w)
  .attr("y",i=>cy(fDom[0]+(i+1)*(fDom[1]-fDom[0])/nC))
  .attr("height",(cb.bot-cb.top)/nC+0.5)
  .attr("fill",i=>jet((i+0.5)/nC));
cbg.append("rect").attr("x",cb.x).attr("y",cb.top).attr("width",cb.w).attr("height",cb.bot-cb.top)
  .attr("fill","none").attr("stroke","#000").attr("stroke-width",1.3);
const ca = svg.append("g").attr("font-family",font);
ca.append("g").attr("transform",`translate(${cb.x+cb.w},0)`)
  .call(d3.axisRight(cy).tickValues(cTickVals).tickFormat(d3.format("")).tickSizeInner(-3).tickSizeOuter(0).tickPadding(5))
  .call(styleAxis);
ca.append("g").attr("transform",`translate(${cb.x},0)`)
  .call(d3.axisLeft(cy).tickValues(cTickVals).tickFormat("").tickSizeInner(-3).tickSizeOuter(0)).call(styleAxis);
svg.append("text").attr("transform","translate(818,205) rotate(-90)").attr("text-anchor","middle").attr("font-family",font).attr("font-size","15px").text("Frequency (Hz)");
</script></body></html>
